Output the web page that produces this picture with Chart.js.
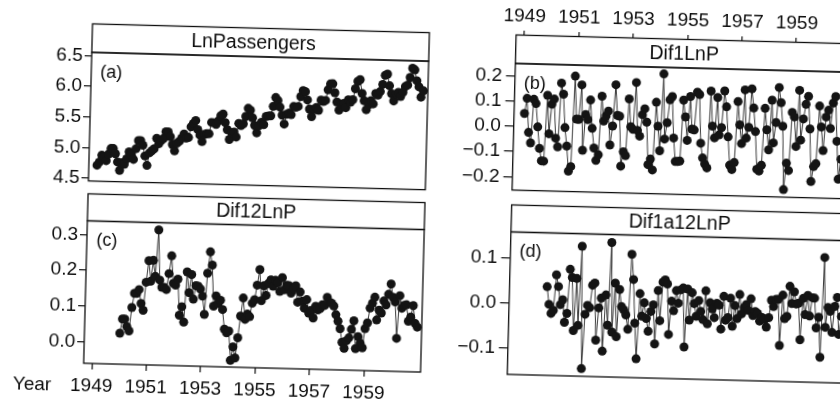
<!DOCTYPE html>
<html><head><meta charset="utf-8">
<script src="https://cdn.jsdelivr.net/npm/chart.js@4.4.1/dist/chart.umd.min.js"></script>
<style>
html,body{margin:0;padding:0;background:#fff;overflow:hidden;width:840px;height:403px;}
#page{position:absolute;left:0;top:0;width:840px;height:403px;transform:rotate(1.5deg);transform-origin:420px 201.5px;}
#page canvas{position:absolute;}
</style></head><body>
<div id="page">
<canvas id="ca" width="440" height="173" style="left:0px;top:30px"></canvas>
<canvas id="cc" width="440" height="203" style="left:0px;top:200px"></canvas>
<canvas id="cb" width="420" height="203" style="left:430px;top:0px"></canvas>
<canvas id="cd" width="420" height="203" style="left:430px;top:200px"></canvas>
</div>
<script>
// ---- data (monthly, Jan 1949 - Dec 1960) ----
const startYear = 1949;
const lnPassengers = [
4.718,4.771,4.883,4.860,4.796,4.905,4.997,4.997,4.913,4.779,4.644,4.771,
4.745,4.836,4.949,4.905,4.828,5.004,5.136,5.136,5.063,4.890,4.736,4.942,
4.977,5.011,5.182,5.094,5.147,5.182,5.293,5.293,5.215,5.088,4.984,5.112,
5.142,5.193,5.263,5.198,5.209,5.384,5.438,5.489,5.342,5.252,5.147,5.268,
5.278,5.278,5.464,5.460,5.434,5.493,5.576,5.606,5.468,5.352,5.193,5.303,
5.318,5.236,5.460,5.425,5.455,5.576,5.710,5.680,5.557,5.434,5.313,5.434,
5.489,5.451,5.587,5.595,5.598,5.753,5.897,5.849,5.743,5.613,5.468,5.628,
5.649,5.624,5.759,5.746,5.762,5.924,6.023,6.004,5.872,5.724,5.602,5.724,
5.753,5.707,5.875,5.852,5.872,6.045,6.142,6.146,6.001,5.849,5.720,5.817,
5.829,5.762,5.892,5.852,5.894,6.075,6.196,6.225,6.001,5.883,5.737,5.820,
5.886,5.835,6.006,5.981,6.040,6.157,6.306,6.326,6.138,6.009,5.892,6.004,
6.033,5.969,6.038,6.133,6.157,6.282,6.433,6.407,6.230,6.133,5.966,6.068];
// first difference, Feb 1949 onward
const dif1LnP = [
0.052,0.112,-0.023,-0.064,0.109,0.092,0.000,-0.085,-0.134,-0.135,0.126,
-0.026,0.091,0.112,-0.043,-0.077,0.176,0.132,0.000,-0.073,-0.172,-0.154,0.205,
0.035,0.034,0.171,-0.088,0.054,0.034,0.112,0.000,-0.078,-0.127,-0.104,0.128,
0.030,0.051,0.070,-0.064,0.011,0.175,0.054,0.051,-0.147,-0.090,-0.105,0.120,
0.010,0.000,0.186,-0.004,-0.026,0.059,0.083,0.030,-0.138,-0.116,-0.159,0.110,
0.015,-0.082,0.223,-0.035,0.030,0.121,0.134,-0.030,-0.123,-0.123,-0.121,0.121,
0.055,-0.038,0.136,0.007,0.004,0.154,0.145,-0.048,-0.106,-0.130,-0.145,0.160,
0.021,-0.025,0.135,-0.013,0.016,0.162,0.099,-0.020,-0.132,-0.149,-0.121,0.121,
0.029,-0.045,0.168,-0.023,0.020,0.173,0.097,0.004,-0.145,-0.152,-0.129,0.097,
0.012,-0.067,0.130,-0.039,0.042,0.181,0.121,0.028,-0.223,-0.118,-0.147,0.084,
0.066,-0.051,0.172,-0.025,0.059,0.117,0.149,0.020,-0.188,-0.129,-0.117,0.112,
0.029,-0.064,0.069,0.096,0.024,0.125,0.151,-0.026,-0.176,-0.097,-0.167,0.102];
// seasonal (lag 12) difference, Jan 1950 onward
const dif12LnP = [
0.026,0.066,0.066,0.045,0.033,0.099,0.139,0.139,0.150,0.111,0.092,0.171,
0.232,0.174,0.233,0.188,0.319,0.178,0.158,0.158,0.152,0.197,0.247,0.170,
0.165,0.182,0.081,0.105,0.062,0.203,0.145,0.196,0.127,0.165,0.164,0.156,
0.136,0.085,0.201,0.261,0.224,0.109,0.138,0.117,0.126,0.100,0.045,0.035,
0.040,-0.042,-0.004,-0.035,0.022,0.083,0.134,0.074,0.089,0.082,0.120,0.130,
0.171,0.215,0.128,0.170,0.143,0.177,0.187,0.169,0.186,0.179,0.155,0.194,
0.160,0.173,0.172,0.151,0.164,0.172,0.126,0.155,0.129,0.110,0.134,0.096,
0.104,0.083,0.116,0.106,0.110,0.121,0.119,0.142,0.129,0.126,0.118,0.094,
0.076,0.055,0.017,0.000,0.022,0.030,0.054,0.078,0.000,0.034,0.016,0.003,
0.057,0.073,0.115,0.129,0.146,0.082,0.110,0.102,0.136,0.125,0.155,0.184,
0.147,0.134,0.032,0.152,0.117,0.125,0.127,0.081,0.093,0.125,0.075,0.065];
// first difference of the seasonal difference, Feb 1950 onward
const dif1a12LnP = [
0.039,0.000,-0.020,-0.013,0.066,0.040,0.000,0.011,-0.039,-0.019,0.079,
0.061,-0.057,0.059,-0.045,0.131,-0.141,-0.020,0.000,-0.005,0.045,0.050,-0.077,
-0.005,0.017,-0.101,0.024,-0.043,0.141,-0.058,0.051,-0.068,0.037,-0.001,-0.008,
-0.019,-0.051,0.116,0.060,-0.037,-0.116,0.029,-0.021,0.009,-0.026,-0.054,-0.010,
0.005,-0.082,0.037,-0.030,0.056,0.061,0.052,-0.060,0.014,-0.007,0.038,0.010,
0.040,0.044,-0.087,0.042,-0.027,0.034,0.010,-0.018,0.017,-0.007,-0.025,0.039,
-0.034,0.013,-0.001,-0.020,0.012,0.008,-0.045,0.028,-0.025,-0.019,0.024,-0.038,
0.008,-0.021,0.033,-0.010,0.004,0.011,-0.002,0.024,-0.013,-0.004,-0.008,-0.025,
-0.017,-0.021,-0.038,-0.017,0.022,0.008,0.024,0.024,-0.078,0.034,-0.018,-0.013,
0.054,0.016,0.042,0.015,0.017,-0.064,0.028,-0.008,0.035,-0.011,0.030,0.029,
-0.037,-0.013,-0.102,0.120,-0.035,0.009,0.001,-0.046,0.012,0.032,-0.050,-0.010];

const yearTicks  = [1949,1951,1953,1955,1957,1959];
const yearLabels = ['1949','1951','1953','1955','1957','1959'];
const lnTicks  = [4.5,5.0,5.5,6.0,6.5];
const lnLabels = ['4.5','5.0','5.5','6.0','6.5'];
const d12Ticks  = [0.0,0.1,0.2,0.3];
const d12Labels = ['0.0','0.1','0.2','0.3'];
const d1Ticks  = [-0.2,-0.1,0.0,0.1,0.2];
const d1Labels = ['\u22120.2','\u22120.1','0.0','0.1','0.2'];
const d1a12Ticks  = [-0.1,0.0,0.1];
const d1a12Labels = ['\u22120.1','0.0','0.1'];

// ---- drawing ----
const INK = '#0d0d0d';
const FONT = '"Liberation Sans", Arial, sans-serif';
Chart.defaults.font.family = FONT;
Chart.defaults.font.size = 19;
Chart.defaults.color = INK;

function pts(arr, offsetMonths) {
  return arr.map((v, i) => ({ x: startYear + (offsetMonths + i) / 12, y: v }));
}

const framePlugin = {
  id: 'frame',
  afterDraw(chart, args, o) {
    const ctx = chart.ctx, a = chart.chartArea;
    ctx.save();
    ctx.strokeStyle = INK; ctx.lineWidth = 1.3;
    if (o.strip) {
      const h = o.stripH;
      ctx.fillStyle = '#fff';
      ctx.fillRect(a.left, a.top - h, a.right - a.left, h);
      ctx.strokeRect(a.left, a.top - h, a.right - a.left, h);
      ctx.fillStyle = INK;
      ctx.font = '19.5px ' + FONT;
      ctx.textAlign = 'center'; ctx.textBaseline = 'middle';
      ctx.fillText(o.strip, (a.left + a.right) / 2 + (o.stripDx || 0), a.top - h / 2 + 1);
    }
    ctx.strokeRect(a.left, a.top, a.right - a.left, a.bottom - a.top);
    ctx.fillStyle = INK;
    ctx.font = '18px ' + FONT;
    ctx.textAlign = 'center'; ctx.textBaseline = 'middle';
    if (o.tag) ctx.fillText(o.tag, a.left + 20, a.top + 20);
    ctx.font = '19px ' + FONT;
    if (o.xTitle) ctx.fillText(o.xTitle, a.left - 51, a.bottom + 23);
    ctx.restore();
  }
};

function yScale(min, max, ticks, labels, width, tl, pad) {
  return {
    type: 'linear', position: 'left', min, max,
    afterBuildTicks: s => { s.ticks = ticks.map(v => ({ value: v })); },
    afterFit: s => { s.width = width; },
    ticks: { callback: (v, i) => labels[i], padding: pad, autoSkip: false, color: INK },
    grid: { drawOnChartArea: false, drawTicks: true, tickLength: tl, color: INK, lineWidth: 1.2 },
    border: { display: false }
  };
}

function xScale(opts) {
  const base = {
    type: 'linear', min: 1948.7, max: 1961.08,
    afterBuildTicks: s => { s.ticks = yearTicks.map(v => ({ value: v })); },
    ticks: { callback: (v, i) => yearLabels[i], autoSkip: false, maxRotation: 0, minRotation: 0, padding: 5, color: INK },
    grid: { drawOnChartArea: false, drawTicks: true, tickLength: 6, color: INK, lineWidth: 1.2 },
    border: { display: false }
  };
  return Object.assign(base, opts);
}

function ds(data) {
  return {
    data, showLine: true, tension: 0,
    borderColor: '#3a3a3a', borderWidth: 1,
    pointRadius: 4.5, pointHoverRadius: 4.5,
    pointBackgroundColor: '#141414', pointBorderWidth: 0, clip: false
  };
}

function make(id, data, x, y, padding, frame) {
  return new Chart(document.getElementById(id), {
    type: 'scatter',
    data: { datasets: [ds(data)] },
    options: {
      responsive: false, animation: false, events: [],
      layout: { padding, autoPadding: false },
      scales: { x, y },
      plugins: { legend: { display: false }, tooltip: { enabled: false }, frame }
    },
    plugins: [framePlugin]
  });
}

// (a) LnPassengers
make('ca', pts(lnPassengers, 0),
  xScale({ display: false }),
  yScale(4.4585, 6.555, lnTicks, lnLabels, 88, 7, 2),
  { top: 31, bottom: 0.5, left: 0, right: 15 },
  { strip: 'LnPassengers', stripH: 28.5, stripDx: -7, tag: '(a)' });

// (c) Dif12LnP
(function(){
  const xs = xScale({ position: 'bottom', afterFit: s => { s.height = 31; } });
  xs.ticks = Object.assign({}, xs.ticks, { padding: 5 });
  make('cc', pts(dif12LnP, 12), xs,
    yScale(-0.061, 0.3393, d12Ticks, d12Labels, 88, 7, 2),
    { top: 29.5, bottom: 0, left: 0, right: 15 },
    { strip: 'Dif12LnP', stripH: 27, tag: '(c)', xTitle: 'Year' });
})();

// (b) Dif1LnP
(function(){
  const xs = xScale({ position: 'top', afterFit: s => { s.height = 61; } });
  xs.grid = Object.assign({}, xs.grid, { tickLength: 33 });
  xs.ticks = Object.assign({}, xs.ticks, { padding: 2.5 });
  make('cb', pts(dif1LnP, 1), xs,
    yScale(-0.2528, 0.249, d1Ticks, d1Labels, 81.7, 9, 4),
    { top: 0, bottom: 0.5, left: 0, right: 1.3 },
    { strip: 'Dif1LnP', stripH: 28.5, tag: '(b)' });
})();

// (d) Dif1a12LnP
make('cd', pts(dif1a12LnP, 13),
  xScale({ display: false }),
  yScale(-0.158, 0.1587, d1a12Ticks, d1a12Labels, 81.7, 9, 4),
  { top: 29.5, bottom: 31, left: 0, right: 1.3 },
  { strip: 'Dif1a12LnP', stripH: 27, tag: '(d)' });
</script>
</body></html>
